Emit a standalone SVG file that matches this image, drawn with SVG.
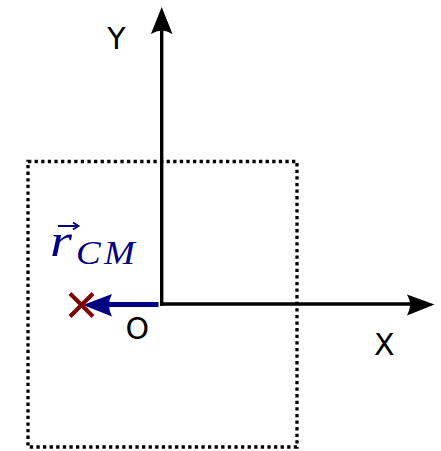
<svg xmlns="http://www.w3.org/2000/svg" width="441" height="451" viewBox="0 0 441 451">
  <style>
    .lbl { font-family: "DejaVu Sans", sans-serif; font-size: 30px; fill: #000; text-anchor: middle; }
    .math { font-family: "Liberation Serif", serif; font-style: italic; fill: #000080; }
    .axis { stroke: #000; stroke-width: 3.4; fill: none; }
  </style>
  <rect width="441" height="451" fill="#fff"/>
  <g id="box">
    <rect x="28" y="161.5" width="269" height="285.5" fill="none" stroke="#000" stroke-width="3.3" stroke-dasharray="3.3 3.3"/>
  </g>
  <g id="connectors">
    <g id="y-axis">
      <path class="axis" d="M161.7,305.7 V28"/>
      <path d="M161.7,7 L172.5,34 Q161.7,27 150.9,34 Z" fill="#000"/>
    </g>
    <g id="x-axis">
      <path class="axis" d="M160,304 H412"/>
      <path d="M434.5,304.5 L407,294.5 Q413,304.5 407,315.5 Z" fill="#000"/>
    </g>
    <g id="r-cm-vector">
      <path d="M158.5,304.5 H106" stroke="#000080" stroke-width="5" fill="none"/>
      <path d="M83,305 L112,294 Q106,305 112,316.5 Z" fill="#000080"/>
    </g>
  </g>
  <g id="cm-marker">
    <path d="M70,293.5 L93,316.5 M93,293.5 L70,316.5" stroke="#800000" stroke-width="4" fill="none"/>
  </g>
  <g id="labels">
    <text class="lbl" x="116.4" y="49.3">Y</text>
    <text class="lbl" x="384.2" y="355">X</text>
    <text class="lbl" x="137.3" y="338.5">O</text>
  </g>
  <g id="r-cm-label">
    <text class="math" x="50" y="256" font-size="47" textLength="22" lengthAdjust="spacingAndGlyphs">r</text>
    <text class="math" x="76" y="264" font-size="34" textLength="62" lengthAdjust="spacingAndGlyphs" letter-spacing="3">CM</text>
    <path d="M58,226 H77.5 M73,222.5 L78.5,226 L73,229.5" stroke="#000080" stroke-width="1.8" fill="none"/>
  </g>
</svg>
